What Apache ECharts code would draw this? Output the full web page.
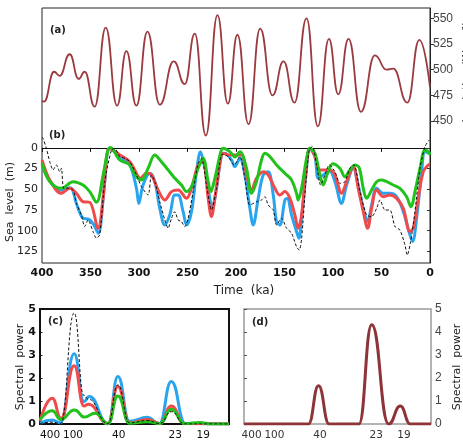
<!DOCTYPE html>
<html>
<head>
<meta charset="utf-8">
<script src="https://cdn.jsdelivr.net/npm/echarts@6/dist/echarts.min.js"></script>
<style>
  html, body { margin: 0; padding: 0; background: #fff; }
  #chart { width: 463px; height: 442px; }
</style>
</head>
<body>
<div id="chart"></div>
<script>
// (a) insolation, read at the peaks and troughs of the curve
const insolTime = [400, 397.9, 387.6, 381.8, 371.5, 362.2, 356.0, 345.7, 334.3, 322.6, 313.0, 302.7, 291.3, 278.6, 264.2, 252.8, 242.5, 231.1, 219.1, 208.4, 198.5, 187.1, 175.1, 162.4, 151.0, 139.7, 127.3, 115.6, 104.2, 94.6, 84.0, 71.2, 56.8, 44.8, 37.9, 23.4, 11.0, 0];
const insolValue = [470, 469, 498, 494, 515, 491, 498, 464, 541, 465, 518, 465, 537, 466, 508, 486, 535, 436, 553, 467, 534, 447, 540, 475, 508, 468, 550, 445, 530, 476, 530, 459, 514, 500, 501, 468, 529, 483];

// (b) sea level, [time ka, metres below present]
const blueSL = [[400,20],[392,40],[380,51],[371,48],[364,69],[357.7,85],[352,86],[347,92],[342,103],[335.3,41],[330.2,0.5],[319.8,10.5],[309.5,20.6],[302.6,48.8],[300.2,67],[295.8,44.8],[288.9,30.7],[283.7,40.8],[278.6,73],[273.4,93],[268.3,81],[263.1,57],[259.7,57],[254.5,77],[251,93],[245.9,77],[240.7,28.7],[236.6,4.5],[232.1,24.6],[227,61],[224.6,73],[220.1,48.8],[215,8.5],[211.5,6.5],[204.6,14.6],[201.2,22.6],[196,12.5],[190.9,32.7],[185.7,73],[182.3,93],[177.1,61],[172,32.7],[166.8,28.7],[161.6,57],[158.2,89],[154.8,93],[149.6,63],[147.2,61],[142.7,81],[137.6,101],[135.2,109],[132.4,85],[127.9,32.7],[123.8,0.5],[118.6,10.5],[115.2,36.7],[110.1,32.7],[103.5,28],[98,40.8],[91.2,67],[86,44.8],[79.1,24.6],[74,44.8],[68.8,73],[64.3,89],[60.2,69],[55,48.8],[48.2,54.9],[41.3,54.9],[34.4,58.9],[27.5,77],[20.7,105],[17.9,113],[13.8,85],[8.6,28.7],[5.2,4.5],[0,6.5]];
const redSL = [[400,14.6],[392,38.7],[380,54.9],[371.4,48.8],[364.5,54.9],[357.7,65],[350.8,65.7],[342.2,97],[337,61],[330.2,0.5],[319.8,8.5],[309.5,16.6],[300.9,34.7],[299,36.7],[292.3,30.7],[287.2,32.7],[280.3,50.8],[273.4,62.9],[266.5,52.8],[259.7,50.8],[251,60.9],[245.9,48.8],[239,20.6],[233.9,16.6],[228.7,60.9],[225.3,83],[221.8,60.9],[215.6,12.5],[213.2,6.5],[208,8.5],[201.9,8.5],[194.3,8.5],[189.2,32.7],[184,50.8],[178.9,36.7],[171.9,28.7],[166.8,32.7],[159.9,48.8],[154.8,56.9],[149.6,52.8],[144.4,60.9],[139.3,81],[135.9,97],[132.4,81],[127.9,28.7],[123.8,0.5],[118.6,10.5],[113.5,26.6],[106.6,26.6],[103.2,26.6],[98,32.7],[91.2,54.9],[86,40.8],[79.1,22.6],[74,48.8],[68.8,77],[64.3,97],[60.2,73],[55,50.8],[48.2,58.9],[41.3,56.9],[34.4,60.9],[27.5,73],[20.7,101],[17.2,97],[12.1,60.9],[6.9,28.7],[1.8,20.6],[0,20]];
const greenSL = [[400,18],[392,40.8],[380,48.8],[368,40.8],[357.7,44.8],[350.8,52.8],[343.9,65.7],[337,32.7],[331.9,2.5],[329.5,-0.4],[319.8,14.6],[309.5,20.6],[304,32.7],[297.5,38.7],[290.6,24.6],[283.7,8.5],[276.9,16.6],[270,26.6],[263,36.7],[256.2,44.8],[251,52.8],[245.9,46.8],[239,24.6],[233.9,12.5],[228.7,40.8],[226,52.8],[221.8,36.7],[215.6,4.5],[213.2,0.5],[206.4,4.5],[201,11],[196,4.5],[189.2,24.6],[184,54.9],[178.9,40.8],[173.7,14.6],[170.2,6.5],[165.1,10.5],[158.2,20.6],[149.6,30.7],[142.7,38.7],[137.6,54.9],[135.9,62.9],[132.4,48.8],[127.2,12.5],[123.8,0.5],[118.6,6.5],[113.5,32.7],[110.1,44.8],[106,32],[100,19],[92.9,24.6],[87.7,34.7],[82.6,26.6],[77.4,20.6],[73,24],[68.8,48.8],[65.4,60.9],[60.2,50.8],[55,40.8],[49.9,38.7],[44.7,40.8],[37.9,44.8],[31,48.8],[24.1,58.9],[19.6,71],[15.5,52.8],[10.3,24.6],[5.2,2.5],[1.8,4.5],[0,8.5]];
const obsSL = [[400,-13],[399,-11.6],[395.5,0.5],[392,16.6],[388.6,26.6],[385.2,20.6],[381.7,28.7],[380,24.6],[377.6,48.8],[373.1,48.8],[368,50.8],[364.5,67],[359.4,81],[356,95],[352.5,87],[347.4,101],[343.9,109],[340.5,105],[335.3,40.8],[328.4,2.5],[325,0.5],[319.8,10.5],[314.7,12.5],[309.5,16.6],[302.6,32.7],[297.5,46.8],[290.6,56.9],[287.2,32.7],[283.7,40.8],[278.6,65],[273.4,87],[270,97],[266.5,85],[263.1,77],[259.7,87],[256.2,89],[252.8,95],[249.3,85],[244.2,52.8],[239,18.6],[235.6,12.5],[230.4,44.8],[225.3,75],[220.1,48.8],[214.2,7.7],[208,10.5],[201.9,20.6],[196,10.5],[190.9,36.7],[185.7,69],[178.9,65],[173.7,62.9],[170.2,58.9],[166.8,69],[161.6,75],[158.2,93],[153,85],[147.9,97],[142.7,103],[137.6,119.3],[134.8,123.4],[132.4,110],[127.9,40.8],[124.5,2.5],[121.1,-1.6],[116.9,20.6],[112.8,44.8],[108.3,32.7],[103.9,20.6],[98,28.7],[92.9,42.8],[87.7,40.8],[82.6,24.6],[78.4,20.6],[72.2,52.8],[65.4,81],[60.2,83],[55,73],[51.6,62.9],[46.4,75],[41.3,75],[36.1,95],[31,99.2],[25.8,117.3],[23.4,129.4],[20,113.3],[15.5,77],[10.3,24.6],[5.2,-1.6],[0.7,-9.6]];

// (c), (d) spectra, [frequency in cycles per Ma, power]
const blueSpec = [[-0.8,0.04],[3.2,0.17],[5.9,0.05],[10.4,3.05],[13.6,0.97],[15.3,1.2],[21.5,0],[24.7,2.06],[28.5,0.12],[34.4,0.29],[38.3,0.02],[42.2,1.85],[46.8,0.02],[61.1,0]];
const redSpec = [[-0.8,0.12],[3.2,1.12],[6.1,0.25],[10.4,2.53],[13.6,0.78],[15.0,0.86],[21.5,0.02],[24.7,1.63],[28.5,0.05],[34.4,0.2],[38.5,0.02],[42.2,0.78],[46.5,0.02],[61.1,0]];
const greenSpec = [[-0.8,0.18],[3.2,0.58],[6.0,0.2],[10.5,0.61],[13.8,0.3],[17.2,0.47],[21.5,0.02],[24.7,1.22],[28.5,0.03],[34.4,0.1],[38.5,0.02],[42.2,0.64],[46.5,0.02],[51.6,0.07],[55,0],[61.1,0]];
const obsSpec = [[-0.8,0.02],[3.2,0.08],[6.0,0.02],[10.4,4.83],[13.5,1.25],[15.0,1.08],[21.5,0.02],[24.7,1.7],[28.5,0.05],[34.4,0.15],[38.5,0.02],[42.2,0.54],[46.5,0],[61.1,0]];
const insolSpec = [[0,0],[21.2,0],[24.5,1.66],[28,0],[37.8,0],[42,4.32],[47.6,0],[51.4,0.78],[54.7,0],[61.5,0]];

// tick labels
const insolTicks = [450, 475, 500, 525, 550];
const seaTicks = [0, 25, 50, 75, 100, 125];
const periodTicks = [400, 100, 40, 23, 19];
const periodPos = periodTicks.map(p => 1000 / p);

const FONT = 'DejaVu Sans';
const BLUE = '#29a4ee';
const RED = '#ef4a4c';
const GREEN = '#22c21c';

const chart = echarts.init(document.getElementById('chart'), null, { renderer: 'canvas' });

function line(data, xi, color, width, extra) {
  return Object.assign({
    type: 'line',
    xAxisIndex: xi,
    yAxisIndex: xi,
    data: data,
    showSymbol: false,
    symbol: 'none',
    lineStyle: { color: color, width: width },
    silent: true
  }, extra || {});
}

const specSmooth = { smooth: 0.5, smoothMonotone: 'x' };
const periodLabel = {
  customValues: periodPos,
  formatter: v => String(Math.round(1000 / v)),
  fontFamily: FONT, fontSize: 10.5, color: '#111', margin: 6
};

chart.setOption({
  animation: false,
  backgroundColor: '#fff',
  grid: [
    { left: 42, top: 8, width: 388, height: 255, show: true, borderColor: '#222', borderWidth: 1 },
    { left: 42, top: 133, width: 388, height: 130 },
    { left: 40, top: 309, width: 189, height: 115, show: true, borderColor: '#111', borderWidth: 2 },
    { left: 244, top: 309, width: 187, height: 115, show: true, borderColor: '#9a9a9a', borderWidth: 1.5 }
  ],
  xAxis: [
    { gridIndex: 0, type: 'value', min: 0, max: 400, inverse: true, show: false },
    {
      gridIndex: 1, type: 'value', min: 0, max: 400, interval: 50, inverse: true,
      axisLine: { lineStyle: { color: '#111', width: 1 } },
      axisTick: { length: 4, lineStyle: { color: '#111' } },
      axisLabel: { fontFamily: FONT, fontSize: 11, fontWeight: 'bold', color: '#111', margin: 5 },
      splitLine: { show: false }
    },
    {
      gridIndex: 2, type: 'value', min: -0.8, max: 61.1,
      axisLine: { show: false },
      axisTick: { show: false, customValues: periodPos },
      axisLabel: periodLabel,
      splitLine: { show: false }
    },
    {
      gridIndex: 3, type: 'value', min: 0, max: 61.5,
      axisLine: { show: false },
      axisTick: { show: false, customValues: periodPos },
      axisLabel: Object.assign({}, periodLabel, { color: '#333' }),
      splitLine: { show: false }
    }
  ],
  yAxis: [
    {
      gridIndex: 0, type: 'value', position: 'right', min: 312, max: 560,
      axisLine: { show: true, lineStyle: { color: '#222' } },
      axisTick: { show: true, length: 4, customValues: insolTicks, lineStyle: { color: '#333' } },
      axisLabel: { customValues: insolTicks, fontFamily: 'Liberation Sans', fontSize: 12, color: '#444', margin: 3 },
      splitLine: { show: false }
    },
    {
      gridIndex: 1, type: 'value', inverse: true, min: -18, max: 139,
      axisLine: { show: false },
      axisTick: { show: true, length: 3, customValues: seaTicks, lineStyle: { color: '#333' } },
      axisLabel: { customValues: seaTicks, fontFamily: FONT, fontSize: 11, color: '#222', margin: 4 },
      splitLine: { show: false }
    },
    {
      gridIndex: 2, type: 'value', min: 0, max: 5, interval: 1,
      axisLine: { show: false },
      axisTick: { show: true, length: 3, lineStyle: { color: '#111' } },
      axisLabel: { fontFamily: FONT, fontSize: 11, fontWeight: 'bold', color: '#111', margin: 4 },
      splitLine: { show: false }
    },
    {
      gridIndex: 3, type: 'value', position: 'right', min: 0, max: 5, interval: 1,
      axisLine: { show: false },
      axisTick: { show: true, length: 3, lineStyle: { color: '#555' } },
      axisLabel: { fontFamily: 'Liberation Sans', fontSize: 12, color: '#444', margin: 4 },
      splitLine: { show: false }
    }
  ],
  series: [
    line(insolTime.map((t, i) => [t, insolValue[i]]), 0, '#9b3a3f', 1.8, { smooth: 0.5, smoothMonotone: 'x' }),

    line(blueSL, 1, BLUE, 3, { smooth: 0.35 }),
    line(redSL, 1, RED, 3, { smooth: 0.35 }),
    line(greenSL, 1, GREEN, 3, { smooth: 0.35 }),
    line(obsSL, 1, '#111', 1, { smooth: 0.25, lineStyle: { color: '#111', width: 1, type: [3, 2] } }),

    line(blueSpec, 2, BLUE, 3, specSmooth),
    line(redSpec, 2, RED, 3, specSmooth),
    line(greenSpec, 2, GREEN, 3, specSmooth),
    line(obsSpec, 2, '#111', 1, Object.assign({ lineStyle: { color: '#111', width: 1, type: [3, 2] } }, specSmooth)),

    line(insolSpec, 3, '#8c3437', 3, specSmooth)
  ],
  graphic: [
    { type: 'text', x: 50, y: 30, style: { text: '(a)', font: 'bold 10px ' + FONT, fill: '#222', verticalAlign: 'middle' } },
    { type: 'text', x: 49, y: 135, style: { text: '(b)', font: 'bold 10px ' + FONT, fill: '#222', verticalAlign: 'middle' } },
    { type: 'text', x: 48, y: 321, style: { text: '(c)', font: 'bold 10px ' + FONT, fill: '#222', verticalAlign: 'middle' } },
    { type: 'text', x: 252, y: 322, style: { text: '(d)', font: 'bold 10px ' + FONT, fill: '#222', verticalAlign: 'middle' } },
    { type: 'text', x: 244, y: 291, style: { text: 'Time  (ka)', font: '12px ' + FONT, fill: '#222', align: 'center', verticalAlign: 'middle' } },
    { type: 'text', x: 10, y: 202, rotation: Math.PI / 2, style: { text: 'Sea  level  (m)', font: '11px ' + FONT, fill: '#222', align: 'center', verticalAlign: 'middle' } },
    { type: 'text', x: 20, y: 367, rotation: Math.PI / 2, style: { text: 'Spectral  power', font: '11px ' + FONT, fill: '#222', align: 'center', verticalAlign: 'middle' } },
    { type: 'text', x: 457, y: 367, rotation: Math.PI / 2, style: { text: 'Spectral  power', font: '11px ' + FONT, fill: '#222', align: 'center', verticalAlign: 'middle' } },
    { type: 'text', x: 467, y: 72, rotation: Math.PI / 2, style: { text: 'Insolation (W m\u207b\u00b2)', font: '11px ' + FONT, fill: '#222', align: 'center', verticalAlign: 'middle' } }
  ]
});
</script>
</body>
</html>
